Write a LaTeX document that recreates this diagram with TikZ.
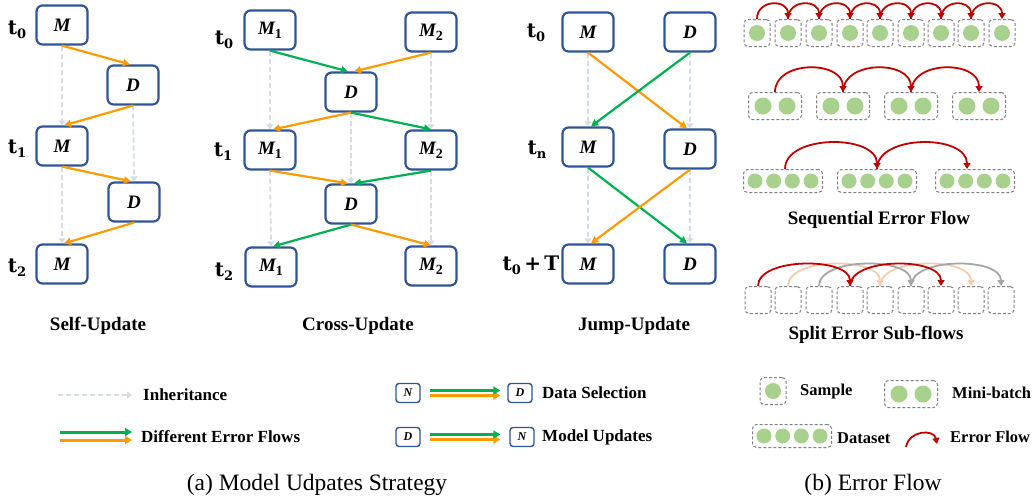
\documentclass[tikz,border=0pt]{standalone}
\usepackage{fontspec}
\setmainfont{Liberation Serif}
\newfontfamily\dvs{DejaVu Serif}
\usetikzlibrary{arrows.meta}
\definecolor{bblue}{HTML}{2F5597}
\definecolor{oran}{HTML}{FF9A00}
\definecolor{gren}{HTML}{00B050}
\definecolor{dgray}{HTML}{D6DCE5}
\definecolor{dred}{HTML}{C00000}
\definecolor{sgreen}{HTML}{A9D18E}
\definecolor{dbox}{HTML}{808080}
\definecolor{peach}{HTML}{F8CBAD}
\definecolor{agray}{HTML}{A6A6A6}
\newcommand\tlab[1]{{\dvs\bfseries t}\raisebox{-0.45ex}{\fontsize{13}{13}\selectfont\dvs\bfseries #1}}
\newcommand\msub[1]{\textbf{\textit{M}}\raisebox{-0.45ex}{\fontsize{14}{14}\selectfont\upshape\bfseries #1}}
\begin{document}
\begin{tikzpicture}[x=1pt,y=-1pt,
  mbox/.style={draw=bblue, line width=2.2pt, rounded corners=6pt, minimum width=51pt, minimum height=39pt, inner sep=0pt, fill=white, font=\fontsize{19}{19}\selectfont\bfseries\itshape},
  sbox/.style={draw=bblue, line width=1.4pt, rounded corners=3pt, minimum width=24pt, minimum height=19pt, inner sep=0pt, fill=white, font=\fontsize{12}{12}\selectfont\bfseries\itshape},
  tl/.style={inner sep=0pt, font=\fontsize{20}{20}\selectfont},
  ttl/.style={inner sep=0pt, font=\fontsize{19}{19}\selectfont\bfseries},
  leg/.style={inner sep=0pt, anchor=west, font=\fontsize{17}{17}\selectfont\bfseries},
  rleg/.style={inner sep=0pt, anchor=west, font=\fontsize{16.5}{16.5}\selectfont\bfseries},
  captxt/.style={inner sep=0pt, font=\fontsize{23.5}{23.5}\selectfont},
  inh/.style={draw=dgray, line width=1.8pt, dash pattern=on 5pt off 3pt, -{Triangle[length=5pt,width=7pt]}},
  ofl/.style={draw=oran, line width=2.2pt, -{Triangle[length=7pt,width=7pt]}},
  gfl/.style={draw=gren, line width=2.2pt, -{Triangle[length=7pt,width=7pt]}},
  olg/.style={draw=oran, line width=3pt, -{Triangle[length=7pt,width=8pt]}},
  glg/.style={draw=gren, line width=3pt, -{Triangle[length=7pt,width=8pt]}},
  dsh/.style={draw=dbox, line width=1pt, dash pattern=on 3pt off 2pt, rounded corners=4pt, inner sep=0pt},
  s1/.style={dsh, minimum width=26pt, minimum height=27pt},
  s2/.style={dsh, minimum width=53pt, minimum height=27pt},
  s4/.style={dsh, minimum width=79pt, minimum height=23pt},
  efl/.style={line width=1.8pt, -{Triangle[length=6pt,width=7pt]}}
]
\useasboundingbox (0,0) rectangle (1036,496);

% ---------------- Self-Update ----------------
\node[mbox] (su-m0) at (62,25) {M};
\node[mbox] (su-d0) at (133,85) {D};
\node[mbox] (su-m1) at (62,146) {M};
\node[mbox] (su-d1) at (134,202) {D};
\node[mbox] (su-m2) at (62,264) {M};
\node[tl] (su-t0) at (17,30) {\tlab{0}};
\node[tl] (su-t1) at (17,149) {\tlab{1}};
\node[tl] (su-t2) at (17,268) {\tlab{2}};
\draw[inh] (su-m0.south) -- (su-m1.north);
\draw[inh] (su-m1.south) -- (su-m2.north);
\draw[inh] (su-d0.south) -- (su-d1.north);
\draw[ofl] (su-m0.south) -- ([xshift=-3pt]su-d0.north);
\draw[ofl] (su-d0.south) -- ([xshift=2pt]su-m1.north);
\draw[ofl] (su-m1.south) -- ([xshift=-3pt]su-d1.north);
\draw[ofl] (su-d1.south) -- ([xshift=2pt]su-m2.north);
\node[ttl] (su-title) at (98,326) {Self-Update};

% ---------------- Cross-Update ----------------
\node[mbox] (cu-a0) at (270,30) {\msub{1}};
\node[mbox] (cu-b0) at (431,32) {\msub{2}};
\node[mbox] (cu-d0) at (351,92) {D};
\node[mbox] (cu-a1) at (270,150) {\msub{1}};
\node[mbox] (cu-b1) at (431,150) {\msub{2}};
\node[mbox] (cu-d1) at (351,204) {D};
\node[mbox] (cu-a2) at (271,267) {\msub{1}};
\node[mbox] (cu-b2) at (431,266) {\msub{2}};
\node[tl] (cu-t0) at (224,40) {\tlab{0}};
\node[tl] (cu-t1) at (223,152) {\tlab{1}};
\node[tl] (cu-t2) at (224,272) {\tlab{2}};
\draw[inh] (cu-a0.south) -- (cu-a1.north);
\draw[inh] (cu-a1.south) -- (cu-a2.north);
\draw[inh] (cu-b0.south) -- (cu-b1.north);
\draw[inh] (cu-b1.south) -- (cu-b2.north);
\draw[inh] (cu-d0.south) -- (cu-d1.north);
\draw[gfl] (cu-a0.south) -- ([xshift=-3pt]cu-d0.north);
\draw[ofl] (cu-b0.south) -- ([xshift=3pt]cu-d0.north);
\draw[ofl] (cu-d0.south) -- ([xshift=3pt]cu-a1.north);
\draw[gfl] (cu-d0.south) -- (cu-b1.north);
\draw[ofl] (cu-a1.south) -- ([xshift=-3pt]cu-d1.north);
\draw[gfl] (cu-b1.south) -- ([xshift=3pt]cu-d1.north);
\draw[gfl] (cu-d1.south) -- ([xshift=2pt]cu-a2.north);
\draw[ofl] (cu-d1.south) -- (cu-b2.north);
\node[ttl] (cu-title) at (358,326) {Cross-Update};

% ---------------- Jump-Update ----------------
\node[mbox] (ju-m0) at (588,32) {M};
\node[mbox] (ju-d0) at (690,32) {D};
\node[mbox] (ju-m1) at (588,147) {M};
\node[mbox] (ju-d1) at (690,149) {D};
\node[mbox] (ju-m2) at (588,264) {M};
\node[mbox] (ju-d2) at (690,264) {D};
\node[tl] (ju-t0) at (536,33) {\tlab{0}};
\node[tl] (ju-t1) at (537,150) {\tlab{n}};
\node[tl] (ju-t2) at (531,265) {\tlab{0}\,{\dvs\bfseries +\,T}};
\draw[inh] (ju-m0.south) -- (ju-m1.north);
\draw[inh] (ju-m1.south) -- (ju-m2.north);
\draw[inh] (ju-d0.south) -- (ju-d1.north);
\draw[inh] (ju-d1.south) -- (ju-d2.north);
\draw[ofl] (ju-m0.south) -- ([xshift=-3pt]ju-d1.north);
\draw[gfl] (ju-d0.south) -- ([xshift=3pt]ju-m1.north);
\draw[gfl] (ju-m1.south) -- ([xshift=-3pt]ju-d2.north);
\draw[ofl] (ju-d1.south) -- ([xshift=3pt]ju-m2.north);
\node[ttl] (ju-title) at (634,326) {Jump-Update};

% ---------------- Legend (a) ----------------
\coordinate (li1) at (58,395);
\coordinate (li2) at (132,395);
\draw[inh] (li1) -- (li2);
\node[leg] (lt-inh) at (143,395) {Inheritance};
\coordinate (lo1) at (60,440);
\coordinate (lo2) at (132,440);
\coordinate (lg1) at (60,432);
\coordinate (lg2) at (132,432);
\draw[olg] (lo1) -- (lo2);
\draw[glg] (lg1) -- (lg2);
\node[leg] (lt-def) at (141,437) {Different Error Flows};

\node[sbox] (ln1) at (408,393) {N};
\node[sbox] (ld1) at (520,393) {D};
\draw[olg] ([xshift=9pt,yshift=-2.5pt]ln1.east) -- ([xshift=-7pt,yshift=-2.5pt]ld1.west);
\draw[glg] ([xshift=9pt,yshift=2.5pt]ln1.east) -- ([xshift=-7pt,yshift=2.5pt]ld1.west);
\node[leg] (lt-ds) at (542,393) {Data Selection};

\node[sbox] (ld2) at (408,437) {D};
\node[sbox] (ln2) at (522,437) {N};
\draw[olg] ([xshift=9pt,yshift=-2.5pt]ld2.east) -- ([xshift=-9pt,yshift=-2.5pt]ln2.west);
\draw[glg] ([xshift=9pt,yshift=2.5pt]ld2.east) -- ([xshift=-9pt,yshift=2.5pt]ln2.west);
\node[leg] (lt-mu) at (542,437) {Model Updates};

\node[captxt] (cap-a) at (317,485) {(a) Model Udpates Strategy};

% ---------------- Sequential error flow ----------------
\foreach \i/\x in {1/757,2/788,3/819,4/850,5/880,6/911,7/941,8/971,9/1002}{
  \node[s1] (r1-\i) at (\x,33) {};
  \fill[sgreen] (\x,33) circle (8pt);
}
\foreach \i/\j in {1/2,2/3,3/4,4/5,5/6,6/7,7/8,8/9}{
  \draw[efl, dred] (r1-\i.north) .. controls +(0,-20) and +(0,-20) .. (r1-\j.north);
}
\foreach \i/\x in {1/775,2/843,3/911,4/979}{
  \node[s2] (r2-\i) at (\x,106) {};
  \fill[sgreen] (\x-12,106) circle (8.5pt);
  \fill[sgreen] (\x+12,106) circle (8.5pt);
}
\foreach \i/\j in {1/2,2/3,3/4}{
  \draw[efl, dred] (r2-\i.north) .. controls +(0,-32) and +(0,-32) .. (r2-\j.north);
}
\foreach \i/\x in {1/783,2/877,3/975}{
  \node[s4] (r3-\i) at (\x,181) {};
  \foreach \d in {-28,-9.3,9.3,28}{\fill[sgreen] (\x+\d,181) circle (7.5pt);}
}
\draw[efl, dred] ([xshift=2pt]r3-1.north) .. controls +(0,-35) and +(0,-35) .. (r3-2.north);
\draw[efl, dred] (r3-2.north) .. controls +(0,-35) and +(0,-35) .. ([xshift=-8pt]r3-3.north);
\node[ttl] (t-seq) at (879,220) {Sequential Error Flow};

% ---------------- Split sub-flows ----------------
\foreach \i/\x in {1/758,2/788,3/819,4/850,5/880,6/911,7/941,8/971,9/1001}{
  \node[s1] (r4-\i) at (\x,300) {};
}
\draw[efl, peach] (r4-2.north) .. controls +(0,-29) and +(0,-29) .. (r4-5.north);
\draw[efl, peach] (r4-5.north) .. controls +(0,-29) and +(0,-29) .. (r4-8.north);
\draw[efl, agray] (r4-3.north) .. controls +(0,-29) and +(0,-29) .. (r4-6.north);
\draw[efl, agray] (r4-6.north) .. controls +(0,-29) and +(0,-29) .. (r4-9.north);
\draw[efl, dred] (r4-1.north) .. controls +(0,-29) and +(0,-29) .. (r4-4.north);
\draw[efl, dred] (r4-4.north) .. controls +(0,-29) and +(0,-29) .. (r4-7.north);
\node[ttl] (t-split) at (876,335) {Split Error Sub-flows};

% ---------------- Legend (b) ----------------
\node[s1] (lb-s) at (773,391) {};
\fill[sgreen] (773,391) circle (8pt);
\node[rleg] (lbt-s) at (800,392) {Sample};
\node[s2] (lb-m) at (911,394) {};
\fill[sgreen] (899,394) circle (8.5pt);
\fill[sgreen] (923,394) circle (8.5pt);
\node[rleg] (lbt-m) at (952,393) {Mini-batch};
\node[s4] (lb-d) at (792,436) {};
\foreach \d in {-28,-9.3,9.3,28}{\fill[sgreen] (792+\d,436) circle (7.5pt);}
\node[rleg] (lbt-d) at (837,438) {Dataset};
\coordinate (ef1) at (906,447);
\coordinate (ef2) at (937,444);
\draw[efl, dred] (ef1) .. controls +(3,-17) and +(-3,-15) .. (ef2);
\node[rleg] (lbt-e) at (950,437) {Error Flow};

\node[captxt] (cap-b) at (873,485) {(b) Error Flow};
\end{tikzpicture}
\end{document}
